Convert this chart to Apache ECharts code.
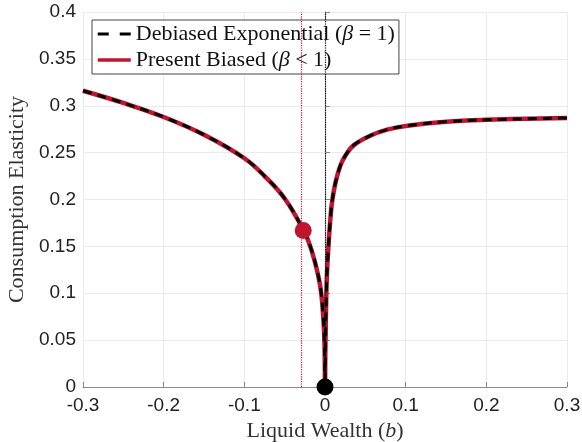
<!DOCTYPE html>
<html>
<head>
<meta charset="utf-8">
<script src="https://cdn.jsdelivr.net/npm/echarts@6/dist/echarts.min.js"></script>
<style>
  html, body { margin: 0; padding: 0; background: #fff; }
  #chart { width: 582px; height: 442px; }
</style>
</head>
<body>
<div id="chart"></div>
<script>
// Liquid wealth grid (b) and the consumption elasticity along it
const wealth = [
  -0.3, -0.25, -0.2, -0.15, -0.1, -0.075, -0.05, -0.026, -0.0167,
  -0.0064, -0.0022, -0.0005, 0,
  0.0005, 0.002, 0.004, 0.0068, 0.009, 0.013, 0.019, 0.0254, 0.0357,
  0.056, 0.077, 0.1, 0.15, 0.2, 0.3
];
const elasticityExponential = [
  0.316, 0.303, 0.288, 0.269, 0.244, 0.225, 0.201, 0.166, 0.146,
  0.110, 0.075, 0.040, 0,
  0.040, 0.110, 0.146, 0.181, 0.199, 0.218, 0.236, 0.247, 0.258,
  0.268, 0.2745, 0.2785, 0.283, 0.285, 0.287
];
const elasticityPresentBiased = elasticityExponential.slice();

// Borrowing limit of the present-biased agent and its elasticity there
const constraintPB = [-0.027, 0.167];
// Natural (zero) borrowing limit of the exponential agent
const constraintExp = [0, 0];

const seriesNames = ['Debiased Exponential', 'Present Biased'];
const legendLabels = {
  'Debiased Exponential': '{t|Debiased Exponential (}{i|β}{t| = 1)}',
  'Present Biased': '{t|Present Biased (}{i|β}{t| < 1)}'
};

const RED = '#c0152f';
const pair = (xs, ys) => xs.map((x, i) => [x, ys[i]]);

const chart = echarts.init(document.getElementById('chart'), null, { renderer: 'canvas' });

const serif = 'Liberation Serif';
const sans = 'Liberation Sans';
const nameSize = 22;

chart.setOption({
  animation: false,
  backgroundColor: '#fff',
  grid: { left: 83, right: 15, top: 12, bottom: 55, containLabel: false, outerBoundsMode: 'none' },
  legend: {
    data: [
      { name: seriesNames[0], lineStyle: { type: [11, 11], width: 3, color: '#000' } },
      { name: seriesNames[1], lineStyle: { width: 3.5, color: RED } }
    ],
    orient: 'vertical',
    left: 92,
    top: 20,
    itemWidth: 33,
    itemHeight: 14,
    itemGap: 4,
    padding: [3, 4, 3, 4],
    backgroundColor: '#fff',
    borderColor: '#444',
    borderWidth: 1,
    borderRadius: 0,
    itemStyle: { opacity: 0 },
    formatter: name => legendLabels[name],
    textStyle: {
      rich: {
        t: { fontFamily: serif, fontSize: 22, color: '#111', lineHeight: 22 },
        i: { fontFamily: serif, fontSize: 22, fontStyle: 'italic', color: '#111', lineHeight: 22 }
      }
    }
  },
  xAxis: {
    type: 'value',
    min: -0.3,
    max: 0.3,
    interval: 0.1,
    name: '{n|Liquid Wealth (}{i|b}{n|)}',
    nameLocation: 'middle',
    nameGap: 29,
    nameTextStyle: {
      rich: {
        n: { fontFamily: serif, fontSize: nameSize, color: '#333' },
        i: { fontFamily: serif, fontSize: nameSize, fontStyle: 'italic', color: '#333' }
      }
    },
    axisLine: { show: true, onZero: false, lineStyle: { color: '#8a8a8a', width: 1 } },
    axisTick: { show: true, inside: true, length: 5, lineStyle: { color: '#8a8a8a' } },
    axisLabel: { fontFamily: sans, fontSize: 19, color: '#222', margin: 9 },
    splitLine: { show: true, lineStyle: { color: '#ebebeb', width: 1 } }
  },
  yAxis: {
    type: 'value',
    min: 0,
    max: 0.4,
    interval: 0.05,
    name: 'Consumption Elasticity',
    nameLocation: 'middle',
    nameGap: 54,
    nameTextStyle: { fontFamily: serif, fontSize: nameSize, color: '#333' },
    axisLine: { show: true, lineStyle: { color: '#8a8a8a', width: 1 } },
    axisTick: { show: true, inside: true, length: 5, lineStyle: { color: '#8a8a8a' } },
    axisLabel: { fontFamily: sans, fontSize: 19, color: '#222', margin: 7 },
    splitLine: { show: true, lineStyle: { color: '#ebebeb', width: 1 } }
  },
  series: [
    {
      name: 'Debiased Exponential',
      type: 'line',
      data: pair(wealth, elasticityExponential),
      showSymbol: false,
      symbol: 'none',
      smooth: 0.4,
      z: 4,
      itemStyle: { color: '#000' },
      lineStyle: { color: '#000', width: 3, type: [9, 6], cap: 'butt' },
      silent: true
    },
    {
      name: 'Present Biased',
      type: 'line',
      data: pair(wealth, elasticityPresentBiased),
      showSymbol: false,
      symbol: 'none',
      smooth: 0.4,
      z: 3,
      itemStyle: { color: RED },
      lineStyle: { color: RED, width: 4.5 },
      silent: true,
      markLine: {
        silent: true,
        symbol: 'none',
        label: { show: false },
        data: [
          { xAxis: constraintPB[0], lineStyle: { color: RED, width: 1.2, type: 'dotted' } },
          { xAxis: constraintExp[0], lineStyle: { color: '#000', width: 1.2, type: 'dotted' } }
        ]
      }
    },
    {
      name: 'pb-limit',
      type: 'scatter',
      data: [constraintPB],
      symbol: 'circle',
      symbolSize: 17,
      clip: false,
      z: 10,
      itemStyle: { color: RED, opacity: 1 },
      silent: true
    },
    {
      name: 'exp-limit',
      type: 'scatter',
      data: [constraintExp],
      symbol: 'circle',
      symbolSize: 17,
      clip: false,
      z: 10,
      itemStyle: { color: '#000', opacity: 1 },
      silent: true
    }
  ]
});
</script>
</body>
</html>
